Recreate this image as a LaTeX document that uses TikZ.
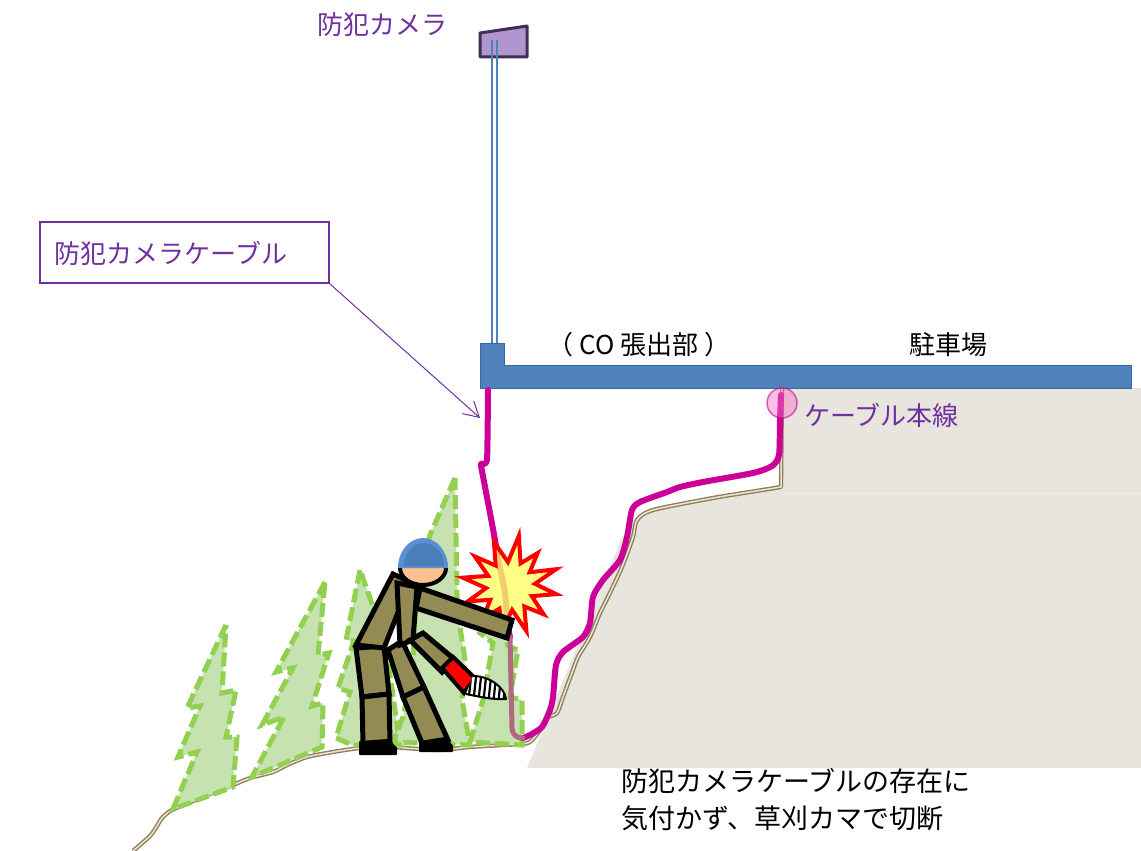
\documentclass[tikz,border=0pt]{standalone}
\usepackage{fontspec}
\setmainfont{Noto Sans CJK JP}
\usetikzlibrary{arrows.meta}
\definecolor{labelpurple}{HTML}{7030A0}
\definecolor{cablemag}{HTML}{CC0099}
\definecolor{cablecut}{HTML}{B06A80}
\definecolor{slabblue}{HTML}{4F81BD}
\definecolor{slabedge}{HTML}{3A679E}
\definecolor{soil}{HTML}{E8E5DE}
\definecolor{groundline}{HTML}{8F7F55}
\definecolor{treefill}{HTML}{C6E2B0}
\definecolor{treeedge}{HTML}{92D050}
\definecolor{suit}{HTML}{948A54}
\definecolor{skin}{HTML}{FAC090}
\definecolor{helmetblue}{HTML}{5B8FD3}
\definecolor{helmetdark}{HTML}{4A7EBB}
\definecolor{cameraface}{HTML}{B195CF}
\definecolor{cameraedge}{HTML}{3F3151}
\definecolor{burstfill}{HTML}{FFFF66}
\begin{document}
\begin{tikzpicture}[x=1pt,y=-1pt,
  tree/.style={fill=treefill, draw=treeedge, line width=5pt, dash pattern=on 14pt off 5pt, line join=miter},
  cable/.style={draw=cablemag, line width=6pt, line cap=round, line join=round},
  limb/.style={fill=suit, draw=black, line width=5pt, line join=miter},
  boot/.style={fill=black, draw=black, line width=2pt, line join=round},
  purplelabel/.style={text=labelpurple, font=\fontsize{26}{30}\selectfont, inner sep=0pt},
  blacklabel/.style={text=black, font=\fontsize{26}{30}\selectfont, inner sep=0pt},
  notelabel/.style={text=black, font=\fontsize{27}{37}\selectfont, inner sep=0pt, anchor=west},
  callbox/.style={draw=labelpurple, line width=1.5pt, minimum width=289pt, minimum height=61pt, inner sep=0pt},
]
\useasboundingbox (0,0) rectangle (1141,851);

% slope and parking ground
\fill[soil] (527,768) -- (621,540) -- (634,522) -- (653,511) -- (713,499) -- (750,493)
  -- (782,489) -- (782,388) -- (1141,388) -- (1141,768) -- cycle;
\draw[white!30!soil, line width=1pt] (784,493) -- (1141,493);

% ground surface line
\draw[groundline, line width=1.4pt, double=white!80!groundline, double distance=1.5pt, line join=round]
  plot[smooth, tension=0.45] coordinates {(133,851) (150,836) (157,826) (162,818) (172,810)
  (200,798) (233,785) (250,778) (273,772) (287,765) (307,757) (333,752) (360,748) (390,747)
  (437,750) (470,747) (503,745) (522,744) (530,742) (538,733) (547,718) (557,713) (563,697)
  (573,670) (578,657) (590,637) (600,613) (608,597) (622,567) (633,537) (637,520) (653,510)
  (713,498) (750,492) (781,487)} -- (782,388);

% camera, pole and overhanging slab
\draw[fill=cameraface, draw=cameraedge, line width=3pt, line join=round]
  (480,33) -- (527,26) -- (527,57) -- (480,57) -- cycle;
\draw[slabblue, line width=1.8pt] (492,40) -- (492,345) (497,40) -- (497,345);
\draw[fill=slabblue, draw=slabedge, line width=1pt]
  (480,343) -- (504,343) -- (504,365) -- (1131,365) -- (1131,388) -- (480,388) -- cycle;

% trees
\draw[tree] (226,625) -- (187,708) -- (200,706) -- (178,757) -- (197,752) -- (173,809)
  -- (233,787) -- (237,737) -- (226,737) -- (236,690) -- (222,693) -- cycle;
\draw[tree] (325,582) -- (276,672) -- (293,668) -- (262,725) -- (284,717) -- (252,777)
  -- (322,747) -- (323,703) -- (312,706) -- (329,653) -- (318,655) -- cycle;
\draw[tree] (360,570) -- (346,640) -- (354,641) -- (338,688) -- (350,692) -- (336,738)
  -- (352,745) -- (400,745) -- (385,640) -- cycle;
\draw[tree] (455,478) -- (430,535) -- (415,580) -- (413,667) -- (403,717) -- (393,742)
  -- (470,745) -- (462,700) -- (465,660) -- (460,627) -- (457,595) -- cycle;
\draw[tree] (498,612) -- (480,633) -- (493,643) -- (483,700) -- (470,742) -- (522,745)
  -- (522,700) -- (510,697) -- (518,650) -- (508,646) -- cycle;

% cables
\draw[cable] plot[smooth, tension=0.4] coordinates {(523,738) (530,735) (542,727) (550,710)
  (553,697) (556,665) (563,652) (583,637) (590,623) (593,597) (603,580) (620,560) (627,537)
  (632,510) (640,502) (667,492) (680,487) (703,482) (753,473) (772,466) (779,455) (780,420) (781,395)};
\draw[cable] plot[smooth, tension=0.3] coordinates {(488,390) (487,460) (481,464) (482,471)
  (490,513) (495,540) (498,560) (502,577) (505,593) (508,627) (510,637)};
\draw[cablecut, line width=5pt, line cap=round, line join=round]
  (510,637) -- (512,728) .. controls (513,736) and (517,738) .. (523,738);
\draw[draw=cablemag, draw opacity=0.6, fill=magenta!55!white, fill opacity=0.45, line width=1.5pt]
  (782,403) circle[radius=15pt];

% burst where the cable is cut
\begin{scope}[shift={(510,586)}]
\draw[fill=burstfill, fill opacity=0.8, draw=red, line width=4pt, line join=miter]
  (190:48) -- (205:24) -- (220:46) -- (235:25) -- (250:47) -- (265:24) -- (280:51)
  -- (295:25) -- (310:43) -- (325:24) -- (340:49) -- (355:25) -- (10:47) -- (25:24)
  -- (40:44) -- (55:25) -- (70:48) -- (85:24) -- (100:45) -- (115:25) -- (130:42)
  -- (145:24) -- (160:45) -- (175:24) -- cycle;
\end{scope}

% worker
\draw[limb] (388,650) -- (402,641) -- (424,687) -- (403,697) -- cycle;
\draw[limb] (403,697) -- (424,687) -- (448,740) -- (424,748) -- cycle;
\draw[boot] (420,742) -- (445,738) -- (452,746) -- (452,751) -- (420,751) -- cycle;
\draw[limb] (356,648) -- (384,646) -- (389,694) -- (362,697) -- cycle;
\draw[limb] (362,697) -- (389,694) -- (390,742) -- (363,744) -- cycle;
\draw[boot] (360,742) -- (388,740) -- (396,748) -- (396,754) -- (360,754) -- cycle;
\draw[limb] (393,574) -- (410,582) -- (384,648) -- (356,645) -- cycle;
\draw[limb] (397,583) -- (417,587) -- (413,640) -- (400,645) -- cycle;
\draw[limb] (410,640) -- (423,633) -- (453,658) -- (442,672) -- cycle;
\draw[fill=red, draw=black, line width=4pt, line join=miter]
  (442,668) -- (453,657) -- (475,678) -- (464,693) -- cycle;
\begin{scope}
  \clip (473,676) .. controls (490,676) and (505,688) .. (506,699)
    .. controls (495,700) and (480,697) .. (466,694) -- cycle;
  \fill[white] (460,670) rectangle (510,705);
  \foreach \k in {0,...,7}
    \draw[black, line width=2.2pt] (472+5*\k,668) -- (468+5*\k,705);
\end{scope}
\draw[black, line width=2pt, line join=round]
  (473,676) .. controls (490,676) and (505,688) .. (506,699)
  .. controls (495,700) and (480,697) .. (466,694);
\draw[limb] (420,588) -- (512,620) -- (507,638) -- (416,608) -- cycle;
\draw[fill=skin, draw=black, line width=4pt] (423,568) ellipse[x radius=23pt, y radius=17pt];
\fill[helmetblue] (398,568) arc[start angle=180, end angle=0, x radius=25pt, y radius=30pt] -- cycle;
\fill[helmetdark] (404,566) arc[start angle=180, end angle=0, x radius=20pt, y radius=23pt] -- cycle;

% labels
\node[purplelabel] (camlabel) at (382,25) {防犯カメラ};
\node[callbox] (callout) at (184.5,252.5) {};
\node[purplelabel] (calltext) at (171,253) {防犯カメラケーブル};
\coordinate (calltip) at (480,418);
\draw[labelpurple, line width=1pt, -{Straight Barb[length=15pt, width=17pt]}] (callout.south east) -- (calltip);
\node[blacklabel] (overhang) at (639,345) {（ CO 張出部 ）};
\node[blacklabel] (parking) at (948,345) {駐車場};
\node[purplelabel, anchor=west] (mainline) at (804,415) {ケーブル本線};
\node[notelabel] (note1) at (621,781) {防犯カメラケーブルの存在に};
\node[notelabel] (note2) at (621,818) {気付かず、草刈カマで切断};
\end{tikzpicture}
\end{document}
